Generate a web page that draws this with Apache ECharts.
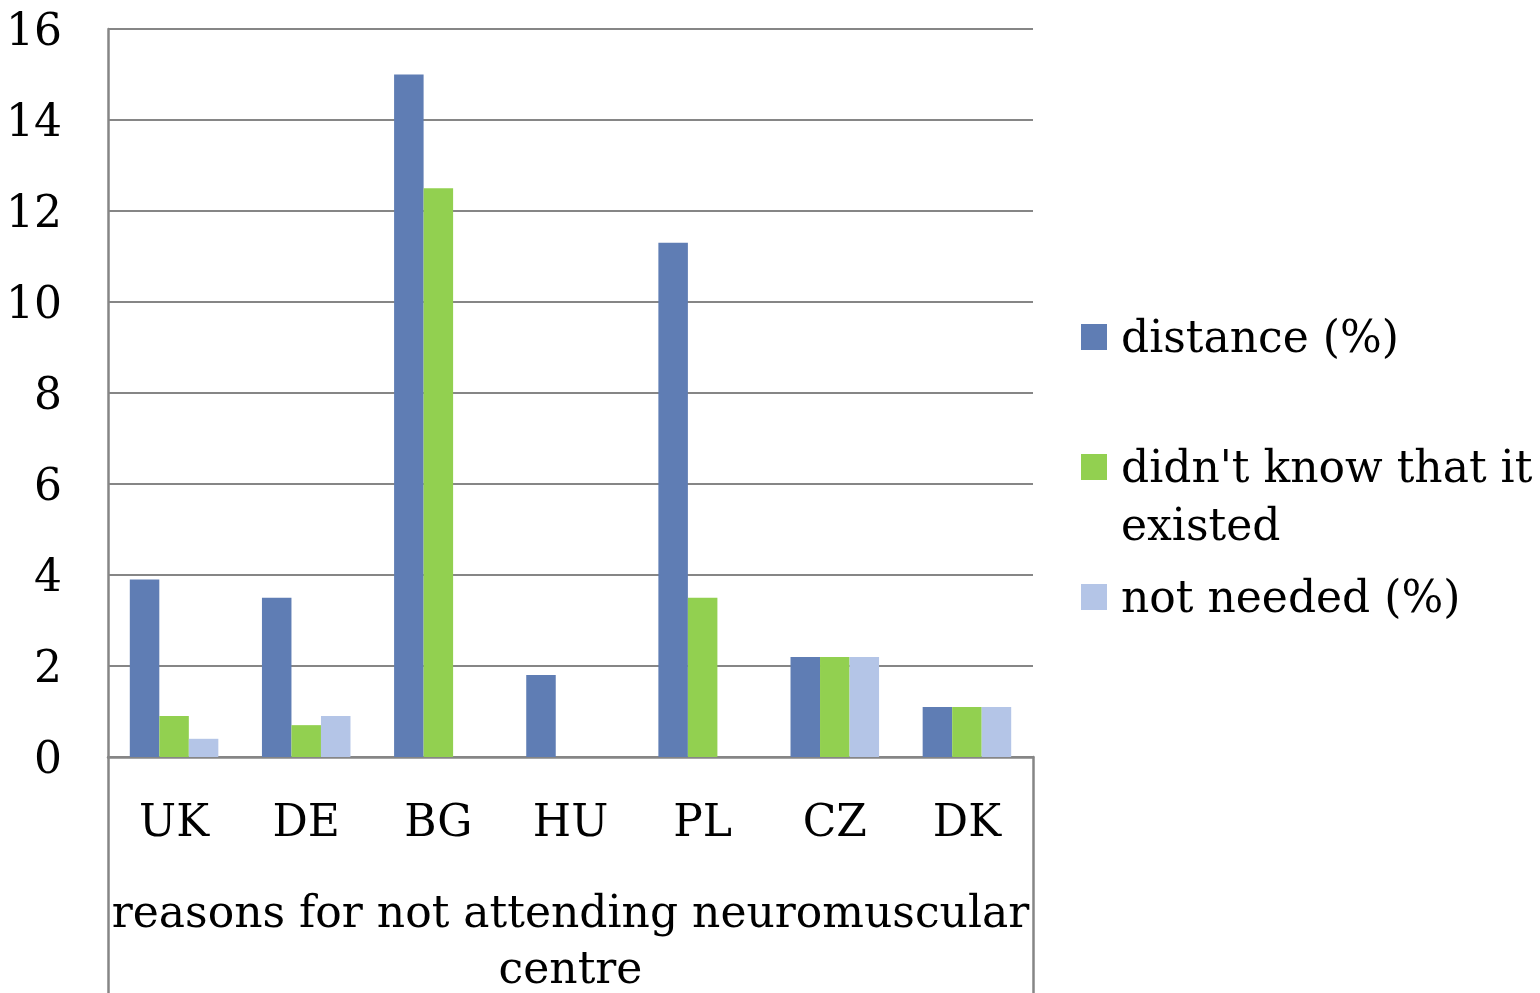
<!DOCTYPE html>
<html><head><meta charset="utf-8">
<script src="https://cdn.jsdelivr.net/npm/echarts@6/dist/echarts.min.js"></script>
<style>html,body{margin:0;padding:0;background:#fff}#c{width:1540px;height:993px}</style>
</head><body><div id="c"></div>
<script>
const categories = ['UK', 'DE', 'BG', 'HU', 'PL', 'CZ', 'DK'];
const seriesNames = ['distance (%)', "didn't know that it\nexisted", 'not needed (%)'];
const distance = [3.9, 3.5, 15, 1.8, 11.3, 2.2, 1.1];
const didntKnow = [0.9, 0.7, 12.5, 0, 3.5, 2.2, 1.1];
const notNeeded = [0.4, 0.9, 0, 0, 0, 2.2, 1.1];
const yTicks = [0, 2, 4, 6, 8, 10, 12, 14, 16];
const axisName = 'reasons for not attending neuromuscular\ncentre';

const FONT = 'DejaVu Serif';
const FS = 44;
const colors = ['#5F7DB4', '#92D050', '#B4C5E7'];
const chart = echarts.init(document.getElementById('c'), null, {renderer: 'canvas'});
const richT = {t: {fontFamily: FONT, fontSize: FS, color: '#000', lineHeight: 58, padding: [8, 0, 0, 0]}};
const legendBase = {
  orient: 'vertical', left: 1081, itemWidth: 26, itemHeight: 26, itemGap: 0, padding: 0,
  icon: 'rect',
  formatter: n => n.split('\n').map(s => '{t|' + s + '}').join('\n'),
  textStyle: {fontFamily: FONT, fontSize: FS, color: '#000', lineHeight: 58, padding: [0, 0, 0, 9], rich: richT}
};
chart.setOption({
  animation: false,
  color: colors,
  textStyle: {fontFamily: FONT},
  legend: [
    Object.assign({}, legendBase, {top: 308, data: [seriesNames[0]]}),
    Object.assign({}, legendBase, {top: 380, data: [seriesNames[1]],
      formatter: n => '{t|}\n' + n.split('\n').map(s => '{t|' + s + '}').join('\n')}),
    Object.assign({}, legendBase, {top: 568, data: [seriesNames[2]]})
  ],
  grid: [
    {left: 108, right: 507, top: 29, bottom: 236, containLabel: false, outerBoundsMode: 'none'},
    {left: 108, right: 507, top: 757, bottom: -20, containLabel: false, outerBoundsMode: 'none'}
  ],
  xAxis: [
    {type: 'category', data: categories, gridIndex: 0,
     axisLine: {lineStyle: {color: '#868686', width: 2.5}},
     axisTick: {show: false},
     axisLabel: {fontFamily: FONT, fontSize: FS, color: '#000', margin: 46},
     name: axisName, nameLocation: 'middle', nameGap: 131,
     nameTextStyle: {fontFamily: FONT, fontSize: FS, color: '#000', lineHeight: 56}},
    {type: 'category', data: categories, gridIndex: 1, show: false}
  ],
  yAxis: [
    {type: 'value', min: 0, max: 16, interval: 2, gridIndex: 0,
     axisLine: {show: true, lineStyle: {color: '#868686', width: 2.5}},
     axisTick: {show: false},
     splitLine: {lineStyle: {color: '#868686', width: 2}},
     axisLabel: {fontFamily: FONT, fontSize: FS, color: '#000', margin: 46,
       verticalAlign: 'top', lineHeight: 10,
       formatter: v => yTicks.includes(v) ? String(v) : ''}},
    {type: 'value', gridIndex: 1, position: 'left',
     axisLine: {show: true, lineStyle: {color: '#868686', width: 2.5}},
     axisLabel: {show: false}, axisTick: {show: false}, splitLine: {show: false}},
    {type: 'value', gridIndex: 1, position: 'right',
     axisLine: {show: true, lineStyle: {color: '#868686', width: 2.5}},
     axisLabel: {show: false}, axisTick: {show: false}, splitLine: {show: false}}
  ],
  series: [
    {name: seriesNames[0], type: 'bar', data: distance, barGap: '0%', barCategoryGap: '33%'},
    {name: seriesNames[1], type: 'bar', data: didntKnow, barGap: '0%', barCategoryGap: '33%'},
    {name: seriesNames[2], type: 'bar', data: notNeeded, barGap: '0%', barCategoryGap: '33%'}
  ]
});
</script></body></html>
